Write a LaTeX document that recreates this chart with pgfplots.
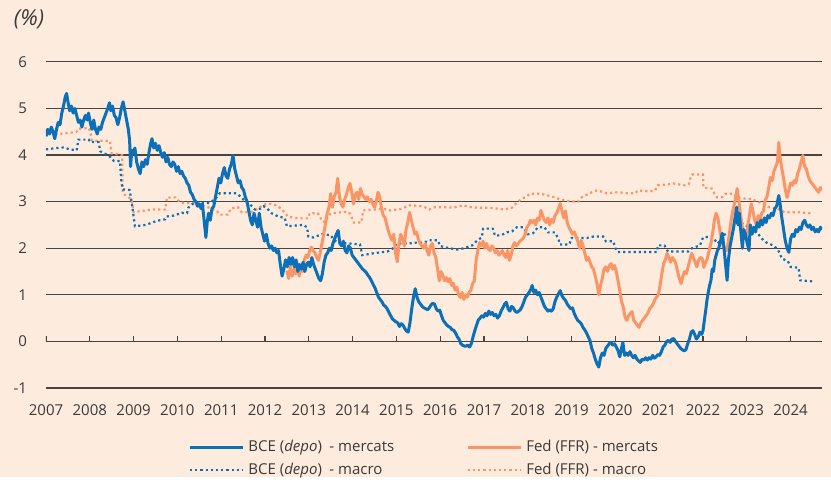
\documentclass[border=0pt]{standalone}
\usepackage{fontspec}
\setmainfont{Open Sans}
\usepackage{pgfplots}
\usepackage{pgfplotstable}
\pgfplotsset{compat=1.18}
\usetikzlibrary{backgrounds,calc}
\definecolor{bg}{HTML}{FDEBDD}
\definecolor{bce}{HTML}{0B70B8}
\definecolor{fed}{HTML}{FA9566}
\definecolor{gridc}{HTML}{4A4440}
\definecolor{txt}{HTML}{3A3A3A}

% BCE (depo) - mercats
\pgfplotstableread[row sep=\\]{x y\\
2007.00 4.40\\ 2007.04 4.55\\ 2007.08 4.45\\ 2007.12 4.60\\ 2007.16 4.50\\ 2007.20 4.35\\ 2007.24 4.55\\ 2007.28 4.70\\
2007.32 4.65\\ 2007.36 4.90\\ 2007.40 5.05\\ 2007.44 5.25\\ 2007.47 5.32\\ 2007.50 5.15\\ 2007.54 4.95\\ 2007.58 5.05\\
2007.62 4.90\\ 2007.66 5.00\\ 2007.70 4.85\\ 2007.74 4.70\\ 2007.78 4.75\\ 2007.82 4.60\\ 2007.86 4.75\\ 2007.90 4.85\\
2007.94 4.75\\ 2007.97 4.90\\ 2008.01 4.70\\ 2008.05 4.55\\ 2008.09 4.75\\ 2008.13 4.55\\ 2008.17 4.45\\ 2008.21 4.60\\
2008.25 4.55\\ 2008.29 4.70\\ 2008.33 4.80\\ 2008.37 4.90\\ 2008.41 5.00\\ 2008.45 5.12\\ 2008.48 4.95\\ 2008.52 5.05\\
2008.56 4.85\\ 2008.60 4.80\\ 2008.64 4.65\\ 2008.68 4.80\\ 2008.72 5.00\\ 2008.76 5.14\\ 2008.80 4.95\\ 2008.84 4.75\\
2008.88 4.55\\ 2008.91 4.30\\ 2008.93 3.75\\ 2008.96 4.10\\ 2008.99 4.05\\ 2009.03 4.15\\ 2009.07 3.85\\ 2009.11 3.70\\
2009.15 3.60\\ 2009.19 3.85\\ 2009.23 3.75\\ 2009.27 3.90\\ 2009.31 3.80\\ 2009.35 4.05\\ 2009.39 4.25\\ 2009.42 4.35\\
2009.46 4.15\\ 2009.50 4.25\\ 2009.54 4.10\\ 2009.58 4.20\\ 2009.62 4.05\\ 2009.66 3.95\\ 2009.70 4.05\\ 2009.74 3.85\\
2009.78 3.95\\ 2009.82 3.80\\ 2009.86 3.75\\ 2009.90 3.85\\ 2009.94 3.80\\ 2009.98 3.65\\ 2010.02 3.75\\ 2010.06 3.60\\
2010.10 3.65\\ 2010.14 3.55\\ 2010.18 3.50\\ 2010.22 3.40\\ 2010.26 3.35\\ 2010.30 3.20\\ 2010.34 3.15\\ 2010.38 3.05\\
2010.42 3.00\\ 2010.46 2.90\\ 2010.50 2.95\\ 2010.54 2.85\\ 2010.57 2.95\\ 2010.61 2.60\\ 2010.65 2.23\\ 2010.68 2.55\\
2010.71 2.75\\ 2010.75 2.60\\ 2010.79 2.85\\ 2010.83 2.90\\ 2010.87 3.10\\ 2010.91 3.30\\ 2010.95 3.50\\ 2010.99 3.40\\
2011.03 3.60\\ 2011.07 3.73\\ 2011.11 3.55\\ 2011.15 3.50\\ 2011.19 3.70\\ 2011.23 3.80\\ 2011.27 3.99\\ 2011.31 3.70\\
2011.35 3.55\\ 2011.39 3.40\\ 2011.43 3.45\\ 2011.47 3.30\\ 2011.51 3.25\\ 2011.55 3.10\\ 2011.59 3.00\\ 2011.63 2.80\\
2011.67 2.60\\ 2011.71 2.50\\ 2011.75 2.75\\ 2011.79 2.60\\ 2011.83 2.45\\ 2011.87 2.75\\ 2011.91 2.45\\ 2011.95 2.30\\
2011.99 2.15\\ 2012.03 2.30\\ 2012.07 2.10\\ 2012.11 2.00\\ 2012.15 2.05\\ 2012.19 1.95\\ 2012.23 2.00\\ 2012.27 1.90\\
2012.31 1.95\\ 2012.35 1.65\\ 2012.39 1.40\\ 2012.43 1.55\\ 2012.47 1.75\\ 2012.51 1.60\\ 2012.55 1.80\\ 2012.59 1.65\\
2012.63 1.80\\ 2012.67 1.60\\ 2012.71 1.75\\ 2012.75 1.50\\ 2012.79 1.65\\ 2012.83 1.55\\ 2012.87 1.70\\ 2012.91 1.50\\
2012.95 1.65\\ 2012.99 1.70\\ 2013.03 1.60\\ 2013.07 1.80\\ 2013.11 1.65\\ 2013.15 1.55\\ 2013.19 1.45\\ 2013.23 1.35\\
2013.27 1.30\\ 2013.31 1.45\\ 2013.35 1.70\\ 2013.39 1.85\\ 2013.43 1.90\\ 2013.47 2.00\\ 2013.51 1.95\\ 2013.55 2.10\\
2013.59 2.20\\ 2013.63 2.30\\ 2013.67 2.38\\ 2013.71 2.10\\ 2013.75 2.05\\ 2013.79 2.15\\ 2013.83 1.95\\ 2013.87 1.90\\
2013.91 2.05\\ 2013.95 2.00\\ 2013.99 1.85\\ 2014.03 1.80\\ 2014.07 1.75\\ 2014.11 1.70\\ 2014.15 1.65\\ 2014.19 1.60\\
2014.23 1.55\\ 2014.27 1.52\\ 2014.31 1.48\\ 2014.35 1.42\\ 2014.39 1.37\\ 2014.43 1.30\\ 2014.47 1.22\\ 2014.51 1.15\\
2014.55 1.05\\ 2014.59 0.95\\ 2014.63 0.90\\ 2014.67 0.85\\ 2014.71 0.78\\ 2014.75 0.75\\ 2014.79 0.70\\ 2014.83 0.62\\
2014.87 0.55\\ 2014.91 0.48\\ 2014.95 0.45\\ 2014.99 0.42\\ 2015.03 0.40\\ 2015.07 0.32\\ 2015.11 0.38\\ 2015.15 0.35\\
2015.19 0.28\\ 2015.23 0.22\\ 2015.27 0.20\\ 2015.31 0.40\\ 2015.35 0.70\\ 2015.39 0.95\\ 2015.43 1.13\\ 2015.47 0.95\\
2015.51 0.85\\ 2015.55 0.80\\ 2015.59 0.75\\ 2015.63 0.72\\ 2015.67 0.70\\ 2015.71 0.68\\ 2015.75 0.72\\ 2015.79 0.78\\
2015.83 0.82\\ 2015.87 0.80\\ 2015.91 0.70\\ 2015.95 0.65\\ 2015.99 0.67\\ 2016.03 0.55\\ 2016.07 0.45\\ 2016.11 0.40\\
2016.15 0.35\\ 2016.19 0.32\\ 2016.23 0.30\\ 2016.27 0.25\\ 2016.31 0.24\\ 2016.35 0.18\\ 2016.39 0.10\\ 2016.43 0.05\\
2016.47 -0.05\\ 2016.51 -0.08\\ 2016.55 -0.10\\ 2016.59 -0.10\\ 2016.63 -0.08\\ 2016.67 -0.12\\ 2016.71 -0.05\\ 2016.75 0.10\\
2016.79 0.23\\ 2016.83 0.35\\ 2016.87 0.46\\ 2016.91 0.50\\ 2016.95 0.55\\ 2016.99 0.52\\ 2017.03 0.60\\ 2017.07 0.55\\
2017.11 0.65\\ 2017.15 0.58\\ 2017.19 0.62\\ 2017.23 0.55\\ 2017.27 0.58\\ 2017.31 0.50\\ 2017.35 0.55\\ 2017.39 0.65\\
2017.43 0.72\\ 2017.47 0.80\\ 2017.51 0.84\\ 2017.55 0.70\\ 2017.59 0.65\\ 2017.63 0.75\\ 2017.67 0.72\\ 2017.71 0.65\\
2017.75 0.62\\ 2017.79 0.65\\ 2017.83 0.68\\ 2017.87 0.75\\ 2017.91 0.85\\ 2017.95 0.95\\ 2017.99 1.00\\ 2018.03 1.05\\
2018.07 1.12\\ 2018.10 1.20\\ 2018.14 1.05\\ 2018.18 1.10\\ 2018.22 1.00\\ 2018.26 1.05\\ 2018.30 0.95\\ 2018.34 0.85\\
2018.38 0.75\\ 2018.42 0.70\\ 2018.46 0.65\\ 2018.50 0.68\\ 2018.54 0.65\\ 2018.58 0.70\\ 2018.62 0.85\\ 2018.66 0.95\\
2018.70 1.02\\ 2018.74 1.09\\ 2018.78 0.98\\ 2018.82 0.92\\ 2018.86 0.88\\ 2018.90 0.80\\ 2018.94 0.75\\ 2018.98 0.70\\
2019.02 0.72\\ 2019.06 0.60\\ 2019.10 0.52\\ 2019.14 0.45\\ 2019.18 0.42\\ 2019.22 0.38\\ 2019.26 0.30\\ 2019.30 0.25\\
2019.34 0.18\\ 2019.38 0.10\\ 2019.42 0.02\\ 2019.46 -0.15\\ 2019.50 -0.25\\ 2019.54 -0.38\\ 2019.58 -0.48\\ 2019.62 -0.55\\
2019.66 -0.35\\ 2019.70 -0.25\\ 2019.74 -0.30\\ 2019.78 -0.15\\ 2019.82 -0.10\\ 2019.86 -0.05\\ 2019.90 -0.02\\ 2019.94 -0.08\\
2019.98 -0.05\\ 2020.02 -0.12\\ 2020.06 -0.20\\ 2020.10 -0.33\\ 2020.14 -0.15\\ 2020.17 -0.02\\ 2020.21 -0.30\\ 2020.25 -0.25\\
2020.29 -0.30\\ 2020.33 -0.22\\ 2020.37 -0.30\\ 2020.41 -0.35\\ 2020.45 -0.30\\ 2020.49 -0.38\\ 2020.53 -0.42\\ 2020.57 -0.45\\
2020.61 -0.38\\ 2020.65 -0.40\\ 2020.69 -0.35\\ 2020.73 -0.40\\ 2020.77 -0.35\\ 2020.81 -0.38\\ 2020.85 -0.30\\ 2020.89 -0.36\\
2020.93 -0.33\\ 2020.97 -0.28\\ 2021.01 -0.30\\ 2021.05 -0.22\\ 2021.09 -0.12\\ 2021.13 -0.08\\ 2021.17 0.00\\ 2021.21 0.02\\
2021.25 -0.02\\ 2021.29 0.05\\ 2021.33 0.06\\ 2021.37 0.00\\ 2021.41 -0.05\\ 2021.45 -0.10\\ 2021.49 -0.15\\ 2021.53 -0.18\\
2021.57 -0.20\\ 2021.61 -0.18\\ 2021.65 -0.05\\ 2021.69 0.05\\ 2021.73 0.20\\ 2021.77 0.23\\ 2021.81 0.15\\ 2021.85 0.05\\
2021.89 0.10\\ 2021.93 0.20\\ 2021.97 0.15\\ 2022.00 0.23\\ 2022.03 0.45\\ 2022.06 0.65\\ 2022.09 0.88\\ 2022.12 1.05\\
2022.15 1.20\\ 2022.18 1.30\\ 2022.21 1.55\\ 2022.24 1.50\\ 2022.27 1.75\\ 2022.30 1.85\\ 2022.33 1.95\\ 2022.36 2.00\\
2022.40 2.15\\ 2022.44 2.32\\ 2022.48 2.00\\ 2022.51 1.70\\ 2022.55 1.31\\ 2022.58 1.75\\ 2022.62 2.05\\ 2022.66 2.25\\
2022.70 2.45\\ 2022.74 2.70\\ 2022.77 2.88\\ 2022.80 2.50\\ 2022.83 2.75\\ 2022.86 2.40\\ 2022.90 2.00\\ 2022.93 2.40\\
2022.97 2.30\\ 2023.01 2.10\\ 2023.05 1.95\\ 2023.08 2.50\\ 2023.12 2.30\\ 2023.16 2.45\\ 2023.20 2.35\\ 2023.24 2.55\\
2023.28 2.45\\ 2023.32 2.60\\ 2023.36 2.50\\ 2023.40 2.65\\ 2023.44 2.55\\ 2023.48 2.70\\ 2023.52 2.65\\ 2023.56 2.75\\
2023.60 2.70\\ 2023.64 2.85\\ 2023.68 2.90\\ 2023.73 3.13\\ 2023.76 2.95\\ 2023.80 2.65\\ 2023.84 2.40\\ 2023.88 2.15\\
2023.92 2.00\\ 2023.96 1.91\\ 2024.00 2.20\\ 2024.04 2.30\\ 2024.08 2.25\\ 2024.12 2.40\\ 2024.16 2.35\\ 2024.20 2.45\\
2024.24 2.40\\ 2024.28 2.55\\ 2024.32 2.60\\ 2024.36 2.50\\ 2024.40 2.45\\ 2024.44 2.50\\ 2024.48 2.40\\ 2024.52 2.45\\
2024.56 2.35\\ 2024.60 2.40\\ 2024.64 2.35\\ 2024.68 2.45\\ 2024.72 2.40\\
}\bcemer

% Fed (FFR) - mercats
\pgfplotstableread[row sep=\\]{x y\\
2012.50 1.52\\ 2012.54 1.35\\ 2012.58 1.60\\ 2012.62 1.40\\ 2012.66 1.55\\ 2012.70 1.45\\ 2012.74 1.67\\ 2012.78 1.40\\
2012.82 1.60\\ 2012.86 1.50\\ 2012.90 1.75\\ 2012.94 1.85\\ 2012.98 1.80\\ 2013.02 1.95\\ 2013.06 2.02\\ 2013.10 1.95\\
2013.14 1.90\\ 2013.18 1.80\\ 2013.22 1.74\\ 2013.26 1.90\\ 2013.30 2.10\\ 2013.34 2.30\\ 2013.38 2.53\\ 2013.42 2.75\\
2013.46 2.88\\ 2013.50 3.17\\ 2013.54 2.88\\ 2013.58 3.10\\ 2013.62 3.20\\ 2013.66 3.50\\ 2013.70 3.10\\ 2013.74 2.95\\
2013.78 2.88\\ 2013.82 3.05\\ 2013.86 3.15\\ 2013.90 3.30\\ 2013.94 3.39\\ 2013.98 3.20\\ 2014.02 2.95\\ 2014.06 3.15\\
2014.10 3.20\\ 2014.14 3.05\\ 2014.18 3.28\\ 2014.22 3.15\\ 2014.26 3.10\\ 2014.30 3.05\\ 2014.34 3.10\\ 2014.38 3.00\\
2014.42 3.05\\ 2014.46 2.95\\ 2014.50 2.88\\ 2014.54 3.00\\ 2014.58 3.20\\ 2014.62 3.10\\ 2014.66 2.85\\ 2014.70 2.70\\
2014.74 2.66\\ 2014.78 2.50\\ 2014.82 2.36\\ 2014.86 2.25\\ 2014.90 2.17\\ 2014.94 2.30\\ 2014.98 1.90\\ 2015.02 1.71\\
2015.06 2.10\\ 2015.10 2.30\\ 2015.14 2.20\\ 2015.18 2.05\\ 2015.22 2.40\\ 2015.26 2.55\\ 2015.30 2.77\\ 2015.34 2.60\\
2015.38 2.45\\ 2015.42 2.30\\ 2015.46 2.35\\ 2015.50 2.20\\ 2015.54 2.10\\ 2015.58 2.05\\ 2015.62 2.00\\ 2015.66 2.10\\
2015.70 1.95\\ 2015.74 1.85\\ 2015.78 2.05\\ 2015.82 2.10\\ 2015.86 1.90\\ 2015.90 1.80\\ 2015.94 1.55\\ 2015.98 1.30\\
2016.02 1.50\\ 2016.06 1.42\\ 2016.10 1.30\\ 2016.14 1.37\\ 2016.18 1.28\\ 2016.22 1.35\\ 2016.26 1.20\\ 2016.30 1.25\\
2016.34 1.10\\ 2016.38 1.16\\ 2016.42 1.00\\ 2016.46 0.94\\ 2016.50 1.05\\ 2016.54 0.90\\ 2016.58 1.00\\ 2016.62 0.95\\
2016.66 1.05\\ 2016.70 1.10\\ 2016.74 1.24\\ 2016.78 1.30\\ 2016.82 1.75\\ 2016.86 1.95\\ 2016.90 2.12\\ 2016.94 2.05\\
2016.98 2.15\\ 2017.02 2.00\\ 2017.06 2.10\\ 2017.10 1.98\\ 2017.14 1.95\\ 2017.18 2.05\\ 2017.22 2.00\\ 2017.26 1.90\\
2017.30 1.95\\ 2017.34 1.85\\ 2017.38 1.90\\ 2017.42 1.95\\ 2017.46 1.85\\ 2017.50 1.80\\ 2017.54 1.95\\ 2017.58 1.74\\
2017.62 1.85\\ 2017.66 2.05\\ 2017.70 2.12\\ 2017.74 2.05\\ 2017.78 2.10\\ 2017.82 2.15\\ 2017.86 2.18\\ 2017.90 2.22\\
2017.94 2.30\\ 2017.98 2.45\\ 2018.02 2.50\\ 2018.06 2.60\\ 2018.10 2.55\\ 2018.14 2.60\\ 2018.18 2.50\\ 2018.22 2.65\\
2018.26 2.60\\ 2018.30 2.81\\ 2018.34 2.70\\ 2018.38 2.60\\ 2018.42 2.55\\ 2018.46 2.65\\ 2018.50 2.50\\ 2018.54 2.62\\
2018.58 2.55\\ 2018.62 2.70\\ 2018.66 2.75\\ 2018.70 2.85\\ 2018.74 2.96\\ 2018.78 2.80\\ 2018.82 2.65\\ 2018.86 2.80\\
2018.90 2.55\\ 2018.94 2.45\\ 2018.98 2.38\\ 2019.02 2.30\\ 2019.06 2.35\\ 2019.10 2.25\\ 2019.14 2.15\\ 2019.18 2.00\\
2019.22 2.17\\ 2019.26 2.05\\ 2019.30 1.90\\ 2019.34 1.74\\ 2019.38 1.80\\ 2019.42 1.70\\ 2019.46 1.60\\ 2019.50 1.55\\
2019.54 1.40\\ 2019.58 1.24\\ 2019.62 1.00\\ 2019.66 1.20\\ 2019.70 1.35\\ 2019.74 1.55\\ 2019.78 1.60\\ 2019.82 1.50\\
2019.86 1.62\\ 2019.90 1.67\\ 2019.94 1.55\\ 2019.98 1.63\\ 2020.02 1.50\\ 2020.06 1.30\\ 2020.10 1.09\\ 2020.14 0.85\\
2020.18 0.74\\ 2020.22 0.52\\ 2020.26 0.45\\ 2020.30 0.55\\ 2020.34 0.60\\ 2020.38 0.64\\ 2020.42 0.45\\ 2020.46 0.40\\
2020.50 0.35\\ 2020.54 0.30\\ 2020.58 0.40\\ 2020.62 0.45\\ 2020.66 0.50\\ 2020.70 0.55\\ 2020.74 0.60\\ 2020.78 0.70\\
2020.82 0.74\\ 2020.86 0.80\\ 2020.90 0.90\\ 2020.94 0.95\\ 2020.98 1.00\\ 2021.02 1.20\\ 2021.06 1.45\\ 2021.10 1.67\\
2021.14 1.75\\ 2021.18 1.89\\ 2021.22 1.80\\ 2021.26 1.70\\ 2021.30 1.80\\ 2021.34 1.75\\ 2021.38 1.67\\ 2021.42 1.50\\
2021.46 1.35\\ 2021.50 1.24\\ 2021.54 1.40\\ 2021.58 1.50\\ 2021.62 1.45\\ 2021.66 1.60\\ 2021.70 1.75\\ 2021.74 1.89\\
2021.78 1.80\\ 2021.82 1.70\\ 2021.86 1.60\\ 2021.90 1.75\\ 2021.94 1.80\\ 2021.98 1.78\\ 2022.02 1.59\\ 2022.06 1.70\\
2022.10 1.78\\ 2022.14 1.95\\ 2022.18 2.10\\ 2022.22 2.32\\ 2022.26 2.60\\ 2022.30 2.75\\ 2022.34 2.65\\ 2022.38 2.40\\
2022.42 2.20\\ 2022.46 2.05\\ 2022.50 2.00\\ 2022.54 1.95\\ 2022.58 2.15\\ 2022.62 2.45\\ 2022.66 2.70\\ 2022.70 2.88\\
2022.74 3.05\\ 2022.78 3.28\\ 2022.82 3.00\\ 2022.86 2.70\\ 2022.90 2.45\\ 2022.94 2.30\\ 2022.98 2.23\\ 2023.02 2.45\\
2023.06 2.70\\ 2023.10 2.95\\ 2023.14 2.80\\ 2023.18 2.60\\ 2023.22 2.50\\ 2023.26 2.70\\ 2023.30 2.60\\ 2023.34 2.75\\
2023.38 2.80\\ 2023.42 3.03\\ 2023.46 3.10\\ 2023.50 3.30\\ 2023.54 3.52\\ 2023.58 3.45\\ 2023.62 3.65\\ 2023.66 3.75\\
2023.70 3.85\\ 2023.73 4.27\\ 2023.76 3.95\\ 2023.80 3.70\\ 2023.84 3.50\\ 2023.88 3.25\\ 2023.92 3.09\\ 2023.96 3.25\\
2024.00 3.40\\ 2024.04 3.35\\ 2024.08 3.45\\ 2024.12 3.40\\ 2024.16 3.60\\ 2024.20 3.70\\ 2024.24 3.85\\ 2024.28 3.99\\
2024.32 3.75\\ 2024.36 3.70\\ 2024.40 3.55\\ 2024.44 3.45\\ 2024.48 3.40\\ 2024.52 3.35\\ 2024.56 3.30\\ 2024.60 3.25\\
2024.64 3.20\\ 2024.68 3.30\\ 2024.72 3.25\\
}\fedmer

% BCE (depo) - macro
\pgfplotstableread[row sep=\\]{x y\\
2007.00 4.12\\ 2007.25 4.15\\ 2007.40 4.16\\ 2007.55 4.12\\ 2007.70 4.10\\ 2007.74 4.33\\ 2007.98 4.33\\ 2008.00 4.28\\
2008.20 4.28\\ 2008.24 4.08\\ 2008.40 4.00\\ 2008.48 3.95\\ 2008.55 3.87\\ 2008.69 3.87\\ 2008.72 3.40\\ 2008.76 3.26\\
2008.91 3.25\\ 2008.97 2.90\\ 2009.03 2.47\\ 2009.28 2.50\\ 2009.45 2.56\\ 2009.60 2.60\\ 2009.72 2.62\\ 2009.75 2.68\\
2009.92 2.70\\ 2010.10 2.76\\ 2010.22 2.75\\ 2010.25 2.87\\ 2010.36 2.96\\ 2010.75 2.97\\ 2010.90 3.10\\ 2010.97 3.18\\
2011.35 3.18\\ 2011.45 3.10\\ 2011.55 3.00\\ 2011.65 2.95\\ 2011.77 2.83\\ 2011.90 2.85\\ 2011.97 2.90\\ 2012.05 2.85\\
2012.15 2.75\\ 2012.30 2.68\\ 2012.45 2.65\\ 2012.50 2.47\\ 2012.87 2.50\\ 2012.96 2.45\\ 2012.99 2.25\\ 2013.10 2.23\\
2013.30 2.30\\ 2013.50 2.28\\ 2013.58 2.17\\ 2013.67 2.12\\ 2013.94 2.10\\ 2014.17 2.08\\ 2014.22 1.85\\ 2014.47 1.89\\
2014.80 1.93\\ 2014.96 2.02\\ 2015.00 2.10\\ 2015.27 2.10\\ 2015.45 2.12\\ 2015.65 2.12\\ 2015.72 2.17\\ 2015.95 2.17\\
2015.99 2.05\\ 2016.10 2.02\\ 2016.38 1.97\\ 2016.55 2.00\\ 2016.73 2.06\\ 2016.85 2.17\\ 2016.95 2.23\\ 2016.98 2.42\\
2017.20 2.42\\ 2017.25 2.27\\ 2017.40 2.28\\ 2017.52 2.34\\ 2017.64 2.36\\ 2017.75 2.45\\ 2017.90 2.45\\ 2018.00 2.30\\
2018.12 2.32\\ 2018.23 2.45\\ 2018.38 2.45\\ 2018.46 2.34\\ 2018.62 2.34\\ 2018.70 2.20\\ 2018.73 2.08\\ 2018.95 2.08\\
2019.00 2.22\\ 2019.35 2.22\\ 2019.50 2.25\\ 2019.72 2.25\\ 2019.78 2.15\\ 2019.95 2.15\\ 2020.00 2.00\\ 2020.05 1.92\\
2020.95 1.92\\ 2020.97 2.06\\ 2021.12 2.06\\ 2021.20 1.93\\ 2021.66 1.93\\ 2021.75 2.00\\ 2021.93 2.06\\ 2022.00 2.23\\
2022.20 2.25\\ 2022.34 2.10\\ 2022.45 2.27\\ 2022.55 2.32\\ 2022.68 2.35\\ 2022.71 2.55\\ 2022.89 2.53\\ 2023.05 2.45\\
2023.23 2.34\\ 2023.35 2.20\\ 2023.45 2.12\\ 2023.60 2.06\\ 2023.71 1.97\\ 2023.80 1.78\\ 2023.94 1.72\\ 2024.00 1.60\\
2024.18 1.58\\ 2024.22 1.31\\ 2024.49 1.29\\
}\bcemac

% Fed (FFR) - macro
\pgfplotstableread[row sep=\\]{x y\\
2007.00 4.55\\ 2007.10 4.52\\ 2007.20 4.45\\ 2007.40 4.46\\ 2007.57 4.48\\ 2007.70 4.50\\ 2007.73 4.56\\ 2007.98 4.58\\
2008.02 4.45\\ 2008.05 4.31\\ 2008.46 4.30\\ 2008.50 4.03\\ 2008.74 4.00\\ 2008.75 3.18\\ 2008.85 3.11\\ 2008.95 3.05\\
2009.00 2.77\\ 2009.20 2.80\\ 2009.45 2.83\\ 2009.72 2.83\\ 2009.76 3.09\\ 2009.95 3.09\\ 2010.07 2.98\\ 2010.36 2.96\\
2010.55 2.92\\ 2010.70 2.88\\ 2010.90 2.80\\ 2010.97 2.72\\ 2011.15 2.72\\ 2011.22 2.85\\ 2011.38 2.88\\ 2011.47 2.77\\
2011.65 2.77\\ 2011.77 2.81\\ 2011.95 2.92\\ 2012.07 2.96\\ 2012.27 2.92\\ 2012.40 2.82\\ 2012.52 2.68\\ 2012.75 2.64\\
2012.98 2.64\\ 2013.02 2.75\\ 2013.20 2.75\\ 2013.25 2.70\\ 2013.30 2.57\\ 2013.38 2.57\\ 2013.42 2.64\\ 2013.50 2.75\\
2013.65 2.76\\ 2013.80 2.78\\ 2013.92 2.77\\ 2013.98 2.66\\ 2014.03 2.55\\ 2014.20 2.55\\ 2014.24 2.81\\ 2014.50 2.83\\
2014.70 2.85\\ 2014.85 2.81\\ 2015.10 2.84\\ 2015.20 2.88\\ 2015.30 2.92\\ 2015.50 2.91\\ 2015.65 2.88\\ 2015.75 2.83\\
2015.88 2.88\\ 2016.00 2.88\\ 2016.30 2.87\\ 2016.52 2.92\\ 2016.70 2.88\\ 2016.87 2.87\\ 2017.10 2.87\\ 2017.30 2.85\\
2017.45 2.83\\ 2017.64 2.87\\ 2017.75 2.98\\ 2017.88 3.07\\ 2017.96 3.10\\ 2018.05 3.17\\ 2018.25 3.17\\ 2018.39 3.15\\
2018.50 3.12\\ 2018.62 3.09\\ 2018.73 3.05\\ 2018.85 3.02\\ 2019.08 3.00\\ 2019.15 3.00\\ 2019.24 3.10\\ 2019.35 3.15\\
2019.46 3.20\\ 2019.58 3.24\\ 2019.70 3.21\\ 2019.80 3.18\\ 2020.05 3.20\\ 2020.27 3.18\\ 2020.45 3.18\\ 2020.52 3.24\\
2020.75 3.22\\ 2020.90 3.23\\ 2020.97 3.35\\ 2021.20 3.37\\ 2021.32 3.39\\ 2021.58 3.35\\ 2021.68 3.38\\ 2021.72 3.52\\
2021.75 3.58\\ 2022.00 3.58\\ 2022.01 3.30\\ 2022.20 3.28\\ 2022.26 3.17\\ 2022.32 3.09\\ 2022.45 3.10\\ 2022.52 3.17\\
2022.70 3.17\\ 2022.76 3.09\\ 2022.89 3.07\\ 2023.12 3.05\\ 2023.35 2.96\\ 2023.50 2.88\\ 2023.69 2.85\\ 2023.80 2.80\\
2023.87 2.77\\ 2024.21 2.77\\ 2024.44 2.75\\ 2024.49 2.74\\
}\fedmac

\tikzset{
  mer/.style={line width=1.5pt, line join=round},
  mac/.style={line width=1.1pt, dash pattern=on 1.1pt off 1.5pt}
}

\begin{document}
\begin{tikzpicture}[font=\fontsize{7.5}{9}\selectfont]
\begin{axis}[
  x=21.9pt, y=23.3pt,
  xmin=2007, xmax=2024.72, ymin=-1, ymax=6,
  axis line style={draw=none},
  major tick length=0pt,
  xtick={2007,...,2024}, ytick={-1,...,6},
  ymajorgrids, grid style={gridc, line width=0.65pt},
  tick label style={font=\fontsize{7.5}{9}\selectfont, text=txt},
  xticklabel style={yshift=-5pt},
  yticklabel style={xshift=-6pt},
  /pgf/number format/assume math mode=true,
  /pgf/number format/1000 sep={},
  legend columns=2,
  legend cell align=left,
  legend image code/.code={\draw[#1] (0pt,0pt) -- (26.5pt,0pt);},
  legend style={draw=none, fill=none, at={(axis description cs:0,0)}, anchor=north west,
    xshift=68pt, yshift=-22pt, font=\fontsize{7.5}{9}\selectfont, text=txt,
    row sep=0pt,
    /tikz/every even column/.append style={column sep=34pt}},
]
\coordinate (O) at (axis cs:2007,-1);
\pgfplotsinvokeforeach{2007,...,2024}{\draw[gridc, line width=0.65pt] (axis cs:#1,0) -- ++(0pt,2.5pt);}
\addplot[mac, fed, forget plot] table {\fedmac};
\addplot[mac, bce, forget plot] table {\bcemac};
\addplot[mer, fed, forget plot] table {\fedmer};
\addplot[mer, bce, forget plot] table {\bcemer};
\addlegendimage{mer, bce}
\addlegendentry{BCE (\textit{depo})\enspace- mercats}
\addlegendimage{mer, fed}
\addlegendentry{Fed (FFR) - mercats}
\addlegendimage{mac, bce}
\addlegendentry{BCE (\textit{depo})\enspace- macro}
\addlegendimage{mac, fed}
\addlegendentry{Fed (FFR) - macro}
\end{axis}
\node[font=\fontsize{11}{13}\selectfont\itshape, text=txt] at ($(O)+(-8.5pt,184.5pt)$) {(\%)};
\begin{scope}[on background layer]
\fill[bg] ($(O)+(-23pt,-44.5pt)$) rectangle ++(415.5pt,238.5pt);
\end{scope}
\end{tikzpicture}
\end{document}
